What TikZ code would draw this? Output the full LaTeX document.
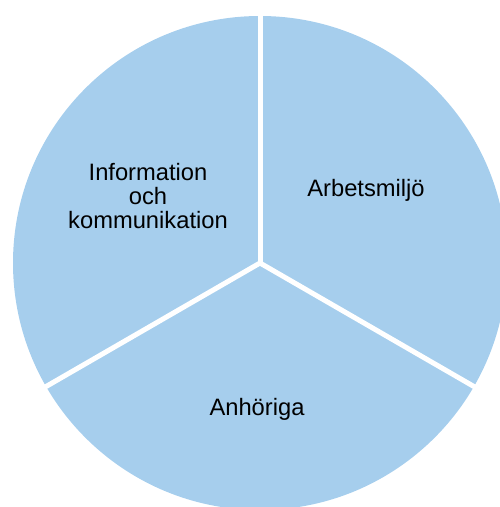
\documentclass[tikz,border=0pt]{standalone}
\usepackage{fontspec}
\setmainfont{Liberation Sans}
\definecolor{sector}{RGB}{166,206,237}

\begin{document}
\begin{tikzpicture}[
    slice/.style={fill=sector},
    gap/.style={draw=white, line width=0.1cm},
    txt/.style={font=\fontsize{13.5}{13.7}\selectfont, align=center, inner sep=0pt}]

\path [use as bounding box, clip] (0,0) rectangle (10,-10.14);

\coordinate (mid) at (5.2,-5.26);
\fill [slice] (mid) circle (4.94);

\path (mid) ++(90:5.1) coordinate (up);
\path (mid) ++(210:5.1) coordinate (left);
\path (mid) ++(330:5.1) coordinate (right);

\draw [gap] (mid) -- (up);
\draw [gap] (mid) -- (left);
\draw [gap] (mid) -- (right);

\node [txt] (info) at (2.96,-3.92) {Information\\och\\kommunikation};
\node [txt] (miljo) at (7.32,-3.8) {Arbetsmiljö};
\node [txt] (anhor) at (5.14,-8.18) {Anhöriga};
\end{tikzpicture}
\end{document}
